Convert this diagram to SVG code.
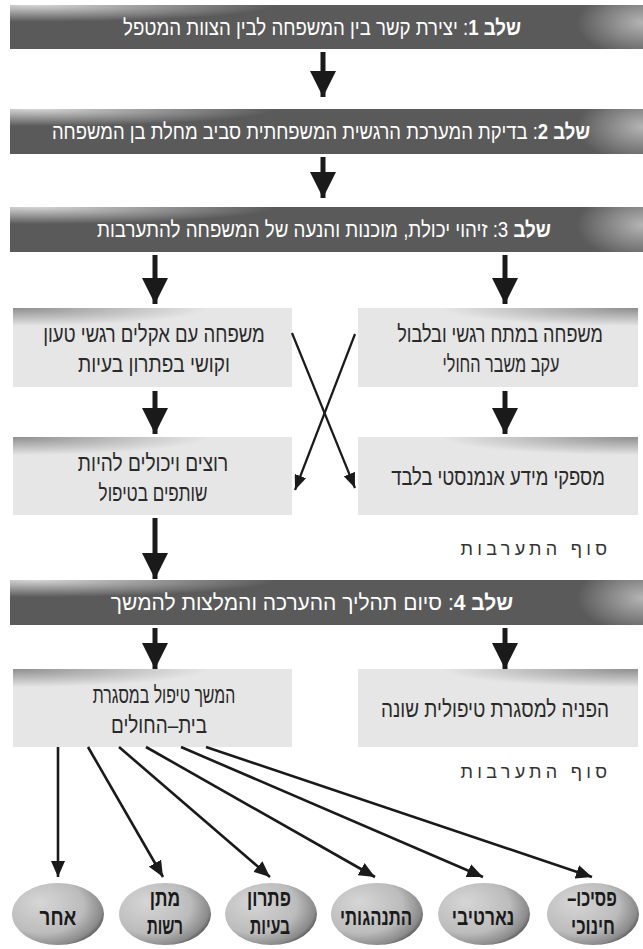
<svg xmlns="http://www.w3.org/2000/svg" width="643" height="949" viewBox="0 0 643 949">
<style>
.bar{fill:#5a5a5a}
.box{fill:#e6e6e6}
.bt{font-family:"Liberation Sans","DejaVu Sans",sans-serif;font-size:22px;fill:#ffffff;text-anchor:middle}
.bb{font-weight:bold}
.xt{font-family:"Liberation Sans","DejaVu Sans",sans-serif;font-size:23px;fill:#2a2a2a;text-anchor:middle}
.et{font-family:"Liberation Sans","DejaVu Sans",sans-serif;font-size:23px;font-weight:bold;fill:#1a1a1a;text-anchor:middle}
.end{font-family:"Liberation Sans","DejaVu Sans",sans-serif;font-size:18px;fill:#333;text-anchor:middle;letter-spacing:4.3px}
.big{stroke:#1a1a1a;stroke-width:5;fill:none;marker-end:url(#mBig)}
.thin{stroke:#1a1a1a;stroke-width:2.2;fill:none;marker-end:url(#mSmall)}
.fan{stroke:#1a1a1a;stroke-width:2.6;fill:none;marker-end:url(#mFan)}
.ell{fill:url(#gEll)}
</style>
<defs>
<radialGradient id="gBarL" cx="0.04" cy="0" r="0.38">
<stop offset="0" stop-color="#ffffff" stop-opacity="0.75"/>
<stop offset="1" stop-color="#ffffff" stop-opacity="0"/>
</radialGradient>
<radialGradient id="gBarR" cx="1" cy="0.4" r="0.8">
<stop offset="0" stop-color="#ffffff" stop-opacity="0.55"/>
<stop offset="1" stop-color="#ffffff" stop-opacity="0"/>
</radialGradient>
<radialGradient id="gBoxL" cx="0" cy="0" r="0.7">
<stop offset="0" stop-color="#8a8a8a" stop-opacity="0.95"/>
<stop offset="1" stop-color="#8a8a8a" stop-opacity="0"/>
</radialGradient>
<radialGradient id="gBoxR" cx="1" cy="0" r="0.7">
<stop offset="0" stop-color="#8a8a8a" stop-opacity="0.95"/>
<stop offset="1" stop-color="#8a8a8a" stop-opacity="0"/>
</radialGradient>
<radialGradient id="gEll" cx="0.35" cy="0.4" r="0.75" fx="0.3" fy="0.3">
<stop offset="0" stop-color="#d6d6d6"/>
<stop offset="0.6" stop-color="#bcbcbc"/>
<stop offset="0.85" stop-color="#8a8a8a"/>
<stop offset="1" stop-color="#2a2a2a"/>
</radialGradient>
<marker id="mBig" markerUnits="userSpaceOnUse" markerWidth="26" markerHeight="26" viewBox="0 0 26 26" refX="26" refY="13" orient="auto">
<path d="M0,0 L26,13 L0,26 z" fill="#1a1a1a"/>
</marker>
<marker id="mSmall" markerUnits="userSpaceOnUse" markerWidth="15" markerHeight="12" viewBox="0 0 15 12" refX="15" refY="6" orient="auto">
<path d="M0,0 L15,6 L0,12 z" fill="#1a1a1a"/>
</marker>
<marker id="mFan" markerUnits="userSpaceOnUse" markerWidth="16" markerHeight="14" viewBox="0 0 16 14" refX="16" refY="7" orient="auto">
<path d="M0,0 L16,7 L0,14 z" fill="#1a1a1a"/>
</marker>
</defs>

<g id="step1">
<rect class="bar" x="10" y="5" width="633" height="44"/>
<rect x="10" y="5" width="633" height="44" fill="url(#gBarL)"/>
<rect x="560" y="5" width="83" height="44" fill="url(#gBarR)"/>
<text class="bt" transform="translate(322,35) scale(0.85,1)" textLength="468" lengthAdjust="spacingAndGlyphs"><tspan class="bb">שלב 1</tspan>: יצירת קשר בין המשפחה לבין הצוות המטפל</text>
</g>
<g id="step2">
<rect class="bar" x="10" y="109" width="633" height="45"/>
<rect x="10" y="109" width="633" height="45" fill="url(#gBarL)"/>
<rect x="560" y="109" width="83" height="45" fill="url(#gBarR)"/>
<text class="bt" transform="translate(321,139) scale(0.828,1)" textLength="650" lengthAdjust="spacingAndGlyphs"><tspan class="bb">שלב 2</tspan>: בדיקת המערכת הרגשית המשפחתית סביב מחלת בן המשפחה</text>
</g>
<g id="step3">
<rect class="bar" x="10" y="207" width="633" height="45"/>
<rect x="10" y="207" width="633" height="45" fill="url(#gBarL)"/>
<rect x="560" y="207" width="83" height="45" fill="url(#gBarR)"/>
<text class="bt" transform="translate(324,237) scale(0.85,1)" textLength="534" lengthAdjust="spacingAndGlyphs"><tspan class="bb">שלב</tspan> 3: זיהוי יכולת, מוכנות והנעה של המשפחה להתערבות</text>
</g>

<g id="boxL1">
<rect class="box" x="13" y="308" width="279" height="79"/>
<rect x="13" y="308" width="279" height="26" fill="url(#gBoxL)"/>
<text class="xt" transform="translate(154,342) scale(0.8,1)" textLength="277" lengthAdjust="spacingAndGlyphs">משפחה עם אקלים רגשי טעון</text>
<text class="xt" transform="translate(154,372) scale(0.8,1)" textLength="190" lengthAdjust="spacingAndGlyphs">וקושי בפתרון בעיות</text>
</g>
<g id="boxR1">
<rect class="box" x="358" y="308" width="280" height="79"/>
<rect x="358" y="308" width="280" height="26" fill="url(#gBoxR)"/>
<text class="xt" transform="translate(500,342) scale(0.8,1)" textLength="257" lengthAdjust="spacingAndGlyphs">משפחה במתח רגשי ובלבול</text>
<text class="xt" transform="translate(501,372) scale(0.8,1)" textLength="146" lengthAdjust="spacingAndGlyphs">עקב משבר החולי</text>
</g>
<g id="boxL2">
<rect class="box" x="13" y="437" width="279" height="78"/>
<rect x="13" y="437" width="279" height="26" fill="url(#gBoxL)"/>
<text class="xt" transform="translate(153,471) scale(0.8,1)" textLength="188" lengthAdjust="spacingAndGlyphs">רוצים ויכולים להיות</text>
<text class="xt" transform="translate(153,501) scale(0.8,1)" textLength="136" lengthAdjust="spacingAndGlyphs">שותפים בטיפול</text>
</g>
<g id="boxR2">
<rect class="box" x="358" y="437" width="280" height="78"/>
<rect x="358" y="437" width="280" height="26" fill="url(#gBoxR)"/>
<text class="xt" transform="translate(498,485) scale(0.8,1)" textLength="267" lengthAdjust="spacingAndGlyphs">מספקי מידע אנמנסטי בלבד</text>
</g>
<g id="end1">
<text class="end" x="536" y="555">סוף התערבות</text>
</g>

<g id="step4">
<rect class="bar" x="10" y="580" width="633" height="45"/>
<rect x="10" y="580" width="633" height="45" fill="url(#gBarL)"/>
<rect x="560" y="580" width="83" height="45" fill="url(#gBarR)"/>
<text class="bt" transform="translate(312,610) scale(0.9,1)" textLength="447" lengthAdjust="spacingAndGlyphs"><tspan class="bb">שלב 4</tspan>: סיום תהליך ההערכה והמלצות להמשך</text>
</g>
<g id="boxL3">
<rect class="box" x="13" y="669" width="279" height="78"/>
<rect x="13" y="669" width="279" height="26" fill="url(#gBoxL)"/>
<text class="xt" transform="translate(164,703) scale(0.8,1)" textLength="178" lengthAdjust="spacingAndGlyphs">המשך טיפול במסגרת</text>
<text class="xt" transform="translate(159,733) scale(0.8,1)" textLength="120" lengthAdjust="spacingAndGlyphs">בית–החולים</text>
</g>
<g id="boxR3">
<rect class="box" x="358" y="669" width="280" height="78"/>
<rect x="358" y="669" width="280" height="26" fill="url(#gBoxR)"/>
<text class="xt" transform="translate(495,717) scale(0.8,1)" textLength="285" lengthAdjust="spacingAndGlyphs">הפניה למסגרת טיפולית שונה</text>
</g>
<g id="end2">
<text class="end" x="536" y="778">סוף התערבות</text>
</g>

<g id="e1"><ellipse class="ell" cx="58" cy="914" rx="46" ry="31"/><text class="et" transform="translate(58,925) scale(0.8,1)" textLength="46" lengthAdjust="spacingAndGlyphs">אחר</text></g>
<g id="e2"><ellipse class="ell" cx="165" cy="914" rx="46" ry="31"/><text class="et" transform="translate(165,906) scale(0.8,1)" textLength="38" lengthAdjust="spacingAndGlyphs">מתן</text><text class="et" transform="translate(165,934) scale(0.8,1)" textLength="45" lengthAdjust="spacingAndGlyphs">רשות</text></g>
<g id="e3"><ellipse class="ell" cx="271" cy="914" rx="46" ry="31"/><text class="et" transform="translate(269,906) scale(0.8,1)" textLength="55" lengthAdjust="spacingAndGlyphs">פתרון</text><text class="et" transform="translate(270,934) scale(0.8,1)" textLength="50" lengthAdjust="spacingAndGlyphs">בעיות</text></g>
<g id="e4"><ellipse class="ell" cx="377" cy="914" rx="46" ry="31"/><text class="et" transform="translate(376,925) scale(0.8,1)" textLength="90" lengthAdjust="spacingAndGlyphs">התנהגותי</text></g>
<g id="e5"><ellipse class="ell" cx="484" cy="914" rx="46" ry="31"/><text class="et" transform="translate(483,925) scale(0.8,1)" textLength="78" lengthAdjust="spacingAndGlyphs">נארטיבי</text></g>
<g id="e6"><ellipse class="ell" cx="593" cy="914" rx="46" ry="31"/><text class="et" transform="translate(592,906) scale(0.8,1)" textLength="62" lengthAdjust="spacingAndGlyphs">פסיכו–&#x200F;</text><text class="et" transform="translate(593,934) scale(0.8,1)" textLength="55" lengthAdjust="spacingAndGlyphs">חינוכי</text></g>

<g id="connectors">
<line class="big" x1="323" y1="52" x2="323" y2="97"/>
<line class="big" x1="323" y1="157" x2="323" y2="198"/>
<line class="big" x1="155" y1="255" x2="155" y2="304"/>
<line class="big" x1="505" y1="255" x2="505" y2="304"/>
<line class="big" x1="155" y1="391" x2="155" y2="434"/>
<line class="big" x1="505" y1="391" x2="505" y2="434"/>
<line class="big" x1="155" y1="518" x2="155" y2="579"/>
<line class="big" x1="155" y1="628" x2="155" y2="669"/>
<line class="big" x1="505" y1="628" x2="505" y2="669"/>
<line class="thin" x1="292" y1="333" x2="355" y2="488"/>
<line class="thin" x1="355" y1="334" x2="295" y2="490"/>
<line class="fan" x1="58" y1="747" x2="58" y2="877"/>
<line class="fan" x1="88" y1="747" x2="163" y2="877"/>
<line class="fan" x1="119" y1="747" x2="270" y2="877"/>
<line class="fan" x1="146" y1="747" x2="375" y2="877"/>
<line class="fan" x1="181" y1="747" x2="483" y2="877"/>
<line class="fan" x1="206" y1="747" x2="592" y2="877"/>
</g>
</svg>
